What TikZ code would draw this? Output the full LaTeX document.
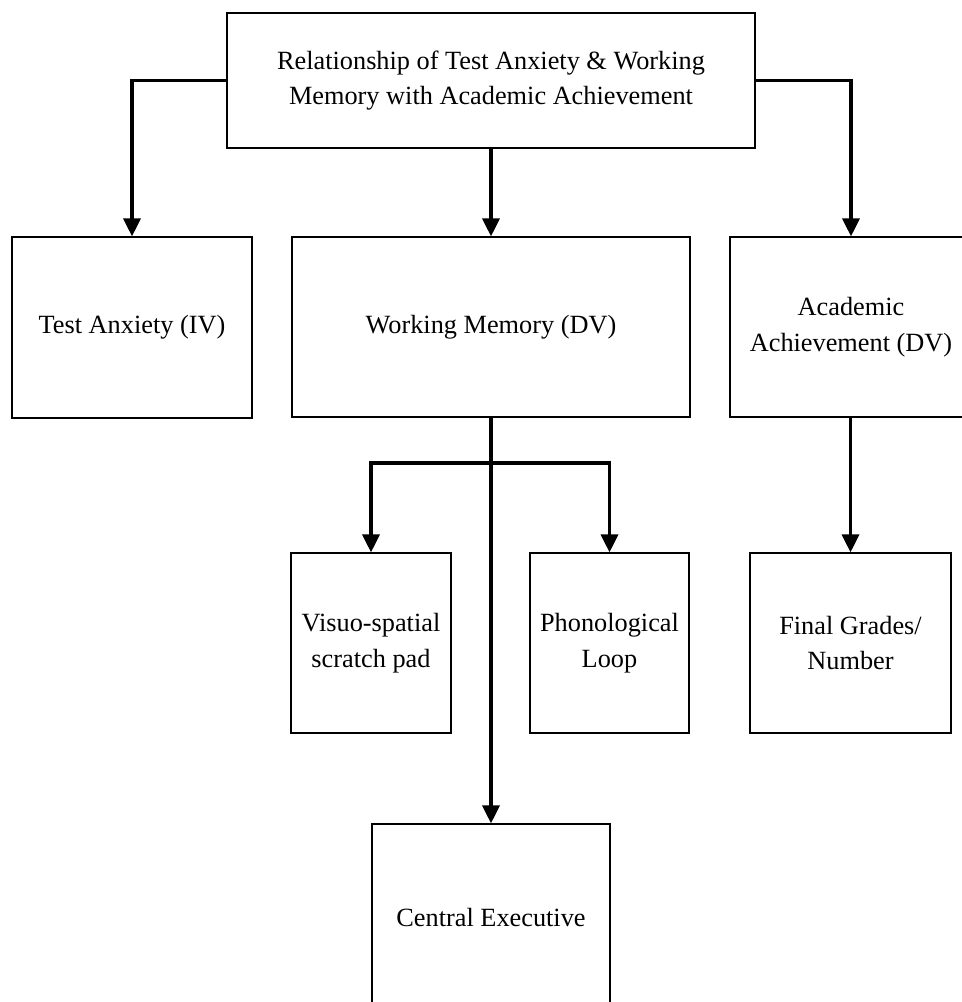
\documentclass[tikz,border=0pt]{standalone}
\usepackage{fontspec}
\setmainfont{Liberation Serif}
\usetikzlibrary{arrows.meta}
\begin{document}
\begin{tikzpicture}[x=0.5pt,y=-0.5pt,
  box/.style={draw=black, line width=0.6pt, rectangle, inner sep=0pt, align=center,
    font=\fontsize{13.15}{17.8}\selectfont},
  conn/.style={draw=black, line width=1.7pt},
  arr/.style={conn, -{Triangle[length=9pt,width=8.5pt]}}]
\useasboundingbox (0,0) rectangle (962,1002);
\clip (0,0) rectangle (962,1002);
\fill[white] (0,0) rectangle (962,1002);

\node[box, minimum width=264pt, minimum height=67.5pt] (top) at (491,80.5)
  {Relationship of Test Anxiety \& Working\\Memory with Academic Achievement};
\node[box, minimum width=120pt, minimum height=90.5pt] (ta) at (132,327.5) {Test Anxiety (IV)};
\node[box, minimum width=199pt, minimum height=90pt] (wm) at (491,327) {Working Memory (DV)};
\node[box, minimum width=121pt, minimum height=90pt] (aa) at (851,327) {Academic\\Achievement (DV)};
\node[box, minimum width=80pt, minimum height=90pt] (vs) at (371,643) {Visuo-spatial\\scratch pad};
\node[box, minimum width=79.5pt, minimum height=90pt] (pl) at (609.5,643) {Phonological\\Loop};
\node[box, minimum width=100.5pt, minimum height=90pt] (fg) at (850.5,643) {Final Grades/\\Number};
\node[box, minimum width=119pt, minimum height=93pt] (ce) at (491,917) {Central Executive};

\coordinate (br) at (491,463);

\draw[arr] (top.west) -| (ta.north);
\draw[arr] (top.east) -| (aa.north);
\draw[arr] (top.south) -- (wm.north);
\draw[arr] (wm.south) -- (ce.north);
\draw[arr] (br) -| (vs.north);
\draw[arr] (br) -| (pl.north);
\draw[arr] (aa.south -| fg.north) -- (fg.north);
\end{tikzpicture}
\end{document}
